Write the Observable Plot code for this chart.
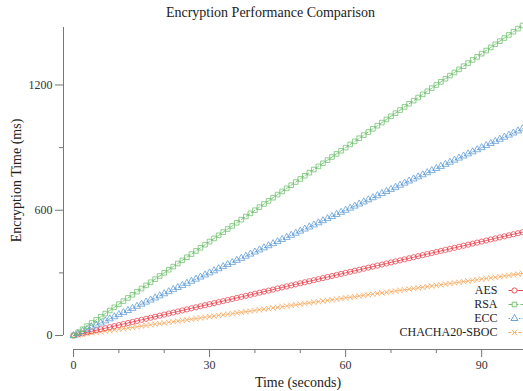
<!DOCTYPE html>
<html>
<head>
<meta charset="utf-8">
<script src="https://cdn.jsdelivr.net/npm/d3@7"></script>
<script src="https://cdn.jsdelivr.net/npm/@observablehq/plot@0.6"></script>
<style>
  html, body { margin: 0; padding: 0; background: #fff; overflow: hidden; }
  #wrap { position: relative; width: 523px; height: 391px; }
  #title { position: absolute; top: 5px; left: 9px; width: 523px; text-align: center;
    font-family: "Liberation Serif", "DejaVu Serif", serif; font-size: 14px; color: #222; }
  svg { font-family: "Liberation Serif", "DejaVu Serif", serif; }
</style>
</head>
<body>
<div id="wrap"><div id="title">Encryption Performance Comparison</div></div>
<script>
const time = [0,1,2,3,4,5,6,7,8,9,10,11,12,13,14,15,16,17,18,19,20,21,22,23,24,25,26,27,28,29,30,31,32,33,34,35,36,37,38,39,40,41,42,43,44,45,46,47,48,49,50,51,52,53,54,55,56,57,58,59,60,61,62,63,64,65,66,67,68,69,70,71,72,73,74,75,76,77,78,79,80,81,82,83,84,85,86,87,88,89,90,91,92,93,94,95,96,97,98,99];
const aes = [0,5,10,15,20,25,30,35,40,45,50,55,60,65,70,75,80,85,90,95,100,105,110,115,120,125,130,135,140,145,150,155,160,165,170,175,180,185,190,195,200,205,210,215,220,225,230,235,240,245,250,255,260,265,270,275,280,285,290,295,300,305,310,315,320,325,330,335,340,345,350,355,360,365,370,375,380,385,390,395,400,405,410,415,420,425,430,435,440,445,450,455,460,465,470,475,480,485,490,495];
const rsa = [0,15,30,45,60,75,90,105,120,135,150,165,180,195,210,225,240,255,270,285,300,315,330,345,360,375,390,405,420,435,450,465,480,495,510,525,540,555,570,585,600,615,630,645,660,675,690,705,720,735,750,765,780,795,810,825,840,855,870,885,900,915,930,945,960,975,990,1005,1020,1035,1050,1065,1080,1095,1110,1125,1140,1155,1170,1185,1200,1215,1230,1245,1260,1275,1290,1305,1320,1335,1350,1365,1380,1395,1410,1425,1440,1455,1470,1485];
const ecc = [0,10,20,30,40,50,60,70,80,90,100,110,120,130,140,150,160,170,180,190,200,210,220,230,240,250,260,270,280,290,300,310,320,330,340,350,360,370,380,390,400,410,420,430,440,450,460,470,480,490,500,510,520,530,540,550,560,570,580,590,600,610,620,630,640,650,660,670,680,690,700,710,720,730,740,750,760,770,780,790,800,810,820,830,840,850,860,870,880,890,900,910,920,930,940,950,960,970,980,990];
const chacha = [0,3,6,9,12,15,18,21,24,27,30,33,36,39,42,45,48,51,54,57,60,63,66,69,72,75,78,81,84,87,90,93,96,99,102,105,108,111,114,117,120,123,126,129,132,135,138,141,144,147,150,153,156,159,162,165,168,171,174,177,180,183,186,189,192,195,198,201,204,207,210,213,216,219,222,225,228,231,234,237,240,243,246,249,252,255,258,261,264,267,270,273,276,279,282,285,288,291,294,297];

const seriesNames = ["AES", "RSA", "ECC", "CHACHA20-SBOC"];
const seriesValues = [aes, rsa, ecc, chacha];
const seriesColors = ["#e8434f", "#6cc06a", "#5b9ad6", "#f9a85c"];
const seriesSymbols = ["circle", "square", "triangle", "times"];
const seriesDash = [null, "4,2", "1.5,2", "3,2"];

const xMajor = [0, 30, 60, 90];
const xMinor = [10, 20, 40, 50, 70, 80];
const yMajor = [0, 600, 1200];
const yMinor = [300, 900];

const segment = { draw(ctx) { ctx.moveTo(-14, 0); ctx.lineTo(16, 0); } };

const rows = [];
seriesNames.forEach((name, i) => {
  time.forEach((t, j) => rows.push({ series: name, idx: i, t, v: seriesValues[i][j] }));
});

const drawOrder = [3, 0, 2, 1];
const dataMarks = [];
for (const i of drawOrder) {
  const d = rows.filter(r => r.idx === i);
  dataMarks.push(Plot.line(d, { x: "t", y: "v", stroke: seriesColors[i], strokeWidth: 1, strokeOpacity: 0.85, strokeDasharray: seriesDash[i] }));
  dataMarks.push(Plot.dot(d, { x: "t", y: "v", symbol: seriesSymbols[i], r: 2.6, stroke: seriesColors[i], fill: "none", strokeWidth: 0.9, strokeOpacity: 0.85 }));
}

const legendMarks = [];
seriesNames.forEach((name, i) => {
  const dy = -45 + i * 14;
  legendMarks.push(Plot.text([name], { frameAnchor: "bottom-right", dx: -25, dy, text: d => d, textAnchor: "end", fontSize: 12, fill: "#222", lineAnchor: "middle" }));
  legendMarks.push(Plot.dot([name], { frameAnchor: "bottom-right", dx: 0, dy, symbol: segment, stroke: seriesColors[i], strokeWidth: 1, strokeDasharray: seriesDash[i], r: 1 }));
  legendMarks.push(Plot.dot([name], { frameAnchor: "bottom-right", dx: -8, dy, symbol: seriesSymbols[i], r: 2.6, stroke: seriesColors[i], fill: "white", strokeWidth: 0.9 }));
});

const chart = Plot.plot({
  width: 523,
  height: 391,
  marginLeft: 73,
  marginRight: 1,
  marginTop: 25,
  marginBottom: 56,
  x: { domain: [0, 99] },
  y: { domain: [0, 1485] },
  style: { fontFamily: "Liberation Serif, DejaVu Serif, serif", fontSize: "12px", color: "#333", overflow: "hidden" },
  marks: [
    Plot.ruleX([0], { y1: 0, y2: 1485, dx: -10, stroke: "#777", insetBottom: -2 }),
    Plot.axisY(yMajor, { tickSize: 8, tickPadding: 3, dx: -10, fontSize: 12, stroke: "#777", color: "#333", label: null, tickFormat: d => String(d) }),
    Plot.axisY(yMinor, { tickSize: 4, dx: -10, text: null, stroke: "#777", label: null }),
    Plot.ruleY([0], { x1: 0, x2: 99, dy: 14, stroke: "#777", insetRight: -5 }),
    Plot.axisX(xMajor, { tickSize: 8, tickPadding: 3, dy: 14, fontSize: 12, stroke: "#777", color: "#333", label: null, tickFormat: d => String(d) }),
    Plot.axisX(xMinor, { tickSize: 4, dy: 14, text: null, stroke: "#777", label: null }),
    Plot.text(["Time (seconds)"], { frameAnchor: "bottom", dy: 47, text: d => d, fontSize: 14, fill: "#222", lineAnchor: "middle", textAnchor: "middle" }),
    Plot.text(["Encryption Time (ms)"], { frameAnchor: "left", dx: -57, rotate: -90, text: d => d, fontSize: 14, fill: "#222", lineAnchor: "middle", textAnchor: "middle" }),
    ...dataMarks,
    ...legendMarks
  ]
});
document.getElementById("wrap").appendChild(chart);
</script>
</body>
</html>
